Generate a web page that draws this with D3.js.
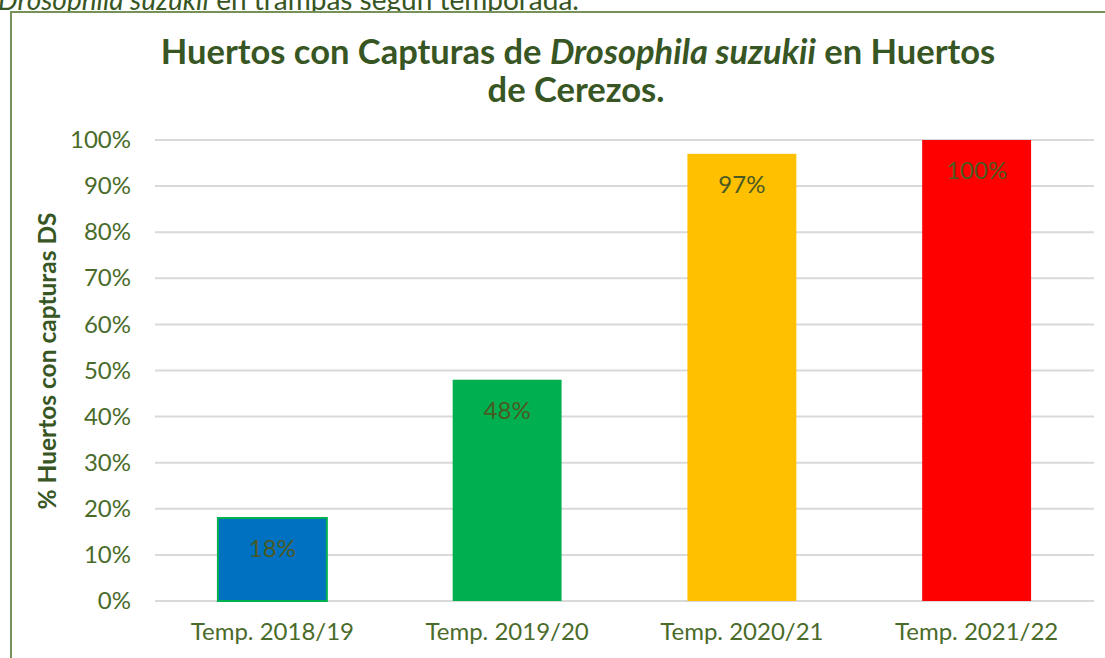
<html>
<head>
<meta charset="utf-8">
<style>
  body { margin: 0; background: #fff; }
  svg text { font-family: Lato, "Open Sans", sans-serif; }
</style>
</head>
<body>
<div id="chartContainer"></div>
<script src="https://cdnjs.cloudflare.com/ajax/libs/d3/7.8.5/d3.min.js"></script>
<script type="text/javascript">
  // data
  var categories = ["Temp. 2018/19", "Temp. 2019/20", "Temp. 2020/21", "Temp. 2021/22"];
  var values = [0.18, 0.48, 0.97, 1.00];
  var barColors = ["#0070c0", "#00b050", "#ffc000", "#ff0000"];
  var yTicks = [0, 0.1, 0.2, 0.3, 0.4, 0.5, 0.6, 0.7, 0.8, 0.9, 1.0];

  var W = 1105, H = 658;
  var svg = d3.select("#chartContainer").append("svg")
    .attr("width", W).attr("height", H);

  // caption line from the document, cut off by the crop
  var cap = svg.append("text").attr("x", -2).attr("y", 10)
    .style("font-size", "28px").style("fill", "#375623");
  cap.append("tspan").style("font-style", "italic").text("Drosophila suzukii");
  cap.append("tspan").text(" en trampas según temporada.");

  // chart frame
  svg.append("rect")
    .attr("x", 11).attr("y", 12)
    .attr("width", W + 20).attr("height", H + 20)
    .style("fill", "#fff")
    .style("stroke", "#76925a")
    .style("stroke-width", 2);

  var plotL = 155, plotR = 1094, plotT = 140, plotB = 601;

  // bar gap ~ 115% of bar width, like excel
  var x = d3.scaleBand().domain(categories).range([plotL, plotR]).paddingInner(0.536).paddingOuter(0.268);
  var y = d3.scaleLinear().domain([0, 1]).range([plotB, plotT]);

  // gridlines
  svg.append("g").selectAll("line").data(yTicks).enter().append("line")
    .attr("x1", plotL).attr("x2", plotR)
    .attr("y1", function (d) { return y(d); })
    .attr("y2", function (d) { return y(d); })
    .style("stroke", "#d9d9d9").style("stroke-width", 2);

  // y axis labels
  var yAxis = d3.axisLeft(y).tickValues(yTicks).tickFormat(d3.format(".0%")).tickSize(0).tickPadding(24);
  var gy = svg.append("g").attr("transform", "translate(" + plotL + ",0)").call(yAxis);
  gy.select(".domain").remove();
  gy.selectAll("text").style("font-size", "24px").style("fill", "#4a6b2a").style("font-family", "Lato, sans-serif");

  // bars
  svg.append("g").selectAll("rect").data(values).enter().append("rect")
    .attr("x", function (d, i) { return x(categories[i]); })
    .attr("y", function (d) { return y(d); })
    .attr("width", x.bandwidth())
    .attr("height", function (d) { return y(0) - y(d); })
    .style("fill", function (d, i) { return barColors[i]; })
    .style("stroke", function (d, i) { return i === 0 ? "#00b050" : "none"; })
    .style("stroke-width", 2);

  // data labels inside end
  svg.append("g").selectAll("text").data(values).enter().append("text")
    .attr("x", function (d, i) { return x(categories[i]) + x.bandwidth() / 2; })
    .attr("y", function (d) { return y(d) + 39; })
    .attr("text-anchor", "middle")
    .style("font-size", "24px")
    .style("fill", "#4b5a22")
    .text(function (d) { return d3.format(".0%")(d); });

  // x axis labels
  var xAxis = d3.axisBottom(x).tickSize(0).tickPadding(22);
  var gx = svg.append("g").attr("transform", "translate(0," + plotB + ")").call(xAxis);
  gx.select(".domain").remove();
  gx.selectAll("text").style("font-size", "24px").style("fill", "#4a6b2a").style("font-family", "Lato, sans-serif");

  // y axis title
  svg.append("text")
    .attr("transform", "translate(56,361) rotate(-90)")
    .attr("text-anchor", "middle")
    .style("font-size", "24.5px").style("font-weight", "bold").style("fill", "#375623")
    .text("% Huertos con capturas DS");

  // chart title
  var t1 = svg.append("text").attr("x", 578).attr("y", 64).attr("text-anchor", "middle")
    .style("font-size", "34.5px").style("font-weight", "bold").style("fill", "#375623");
  t1.append("tspan").text("Huertos con Capturas de ");
  t1.append("tspan").style("font-style", "italic").text("Drosophila suzukii");
  t1.append("tspan").text("  en Huertos");
  svg.append("text").attr("x", 576).attr("y", 102).attr("text-anchor", "middle")
    .style("font-size", "34.5px").style("font-weight", "bold").style("fill", "#375623")
    .text("de Cerezos.");
</script>
</body>
</html>
